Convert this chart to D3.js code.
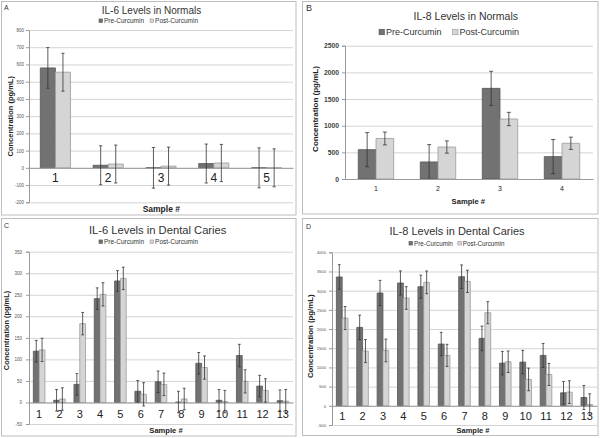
<!DOCTYPE html>
<html><head><meta charset="utf-8">
<script src="https://cdn.jsdelivr.net/npm/d3@7"></script>
<style>
body{margin:0;background:#fff}
svg{display:block}
text{font-family:"Liberation Sans",Arial,sans-serif}
</style>
</head><body>
<svg id="chart" width="600" height="438"></svg>
<script>
// ---------- data ----------
const seriesNames = ["Pre-Curcumin", "Post-Curcumin"];

const categoriesA = ["1", "2", "3", "4", "5"];
const preA = [580, 15, 0, 25, 0];
const postA = [555, 22, 10, 28, 0];
const preErrA = [118, 113, 118, 113, 116];
const postErrA = [110, 110, 110, 108, 110];
const ticksA = [-200, -100, 0, 100, 200, 300, 400, 500, 600, 700, 800];

const categoriesB = ["1", "2", "3", "4"];
const preB = [550, 320, 1700, 420];
const postB = [760, 600, 1125, 670];
const preErrB = [320, 325, 320, 320];
const postErrB = [120, 115, 125, 115];
const ticksB = [0, 500, 1000, 1500, 2000, 2500];

const categoriesC = ["1", "2", "3", "4", "5", "6", "7", "8", "9", "10", "11", "12", "13"];
const preC = [119, 5, 42, 241, 282, 26, 48, 1, 91, 5, 109, 38, 4];
const postC = [122, 8, 183, 251, 288, 19, 42, 8, 81, 2, 49, 28, 3];
const preErrC = [25, 25, 25, 25, 24, 25, 25, 25, 25, 25, 26, 25, 25];
const postErrC = [27, 26, 26, 27, 26, 27, 26, 25, 27, 26, 27, 27, 27];
const ticksC = [-50, 0, 50, 100, 150, 200, 250, 300, 350];

const categoriesD = ["1", "2", "3", "4", "5", "6", "7", "8", "9", "10", "11", "12", "13"];
const preD = [3357, 2043, 2939, 3200, 3104, 1609, 3365, 1757, 1113, 1139, 1313, 339, 217];
const postD = [2287, 1426, 1443, 2809, 3217, 1313, 3243, 2426, 1148, 687, 817, 357, 35];
const preErrD = [320, 320, 330, 315, 300, 305, 305, 320, 305, 305, 313, 296, 313];
const postErrD = [300, 300, 295, 295, 296, 290, 290, 287, 280, 295, 287, 295, 278];
const ticksD = [-500, 0, 500, 1000, 1500, 2000, 2500, 3000, 3500, 4000];

// ---------- drawing ----------
const svg = d3.select("#chart");
const PRE_FILL = "#727272", PRE_STROKE = "#555555";
const POST_FILL = "#d5d5d5", POST_STROKE = "#9a9a9a";

function drawPanel(cfg) {
  const g = svg.append("g");
  const [bx0, by0, bx1, by1] = cfg.box;
  g.append("rect").attr("x", bx0).attr("y", by0).attr("width", bx1 - bx0).attr("height", by1 - by0)
    .attr("fill", "#fff").attr("stroke", "#bdbdbd").attr("stroke-width", 1);

  g.append("text").attr("x", cfg.letter[0]).attr("y", cfg.letter[1])
    .attr("font-size", cfg.letter[2]).attr("fill", "#333").text(cfg.letterText);

  g.append("text").attr("x", cfg.titlePos[0]).attr("y", cfg.titlePos[1] + cfg.titleSize * 0.35)
    .attr("text-anchor", "middle").attr("font-size", cfg.titleSize).attr("fill", "#333").text(cfg.title);

  const P = cfg.plot;
  const y = d3.scaleLinear().domain(d3.extent(cfg.ticks)).range([P.bottom, P.top]);
  const x = d3.scaleBand().domain(cfg.categories).range([P.left, P.right])
    .paddingInner(1.5 / 3.5).paddingOuter(0.75 / 3.5);
  const xs = d3.scaleBand().domain(seriesNames).range([0, x.bandwidth()]);

  // gridlines
  g.append("g").attr("transform", `translate(${P.left},0)`)
    .call(d3.axisLeft(y).tickValues(cfg.ticks).tickSize(-(P.right - P.left)).tickFormat(""))
    .call(s => { s.select(".domain").remove(); s.selectAll("line").attr("stroke", "#d4d4d4"); });

  const series = [
    { name: seriesNames[0], values: cfg.pre, errs: cfg.preErr, fill: PRE_FILL, stroke: PRE_STROKE },
    { name: seriesNames[1], values: cfg.post, errs: cfg.postErr, fill: POST_FILL, stroke: POST_STROKE }
  ];
  const [dmin, dmax] = y.domain();

  series.forEach(sr => {
    const pts = sr.values.map((v, i) => ({ v, e: sr.errs[i], c: cfg.categories[i] }));
    g.append("g").selectAll("path").data(pts).join("path")
      .attr("d", d => {
        const x0 = x(d.c) + xs(sr.name), w = xs.bandwidth();
        const yt = y(Math.max(d.v, 0)), yb = y(Math.min(d.v, 0));
        return `M${x0},${yb}V${yt}H${x0 + w}V${yb}Z`;
      })
      .attr("fill", sr.fill).attr("stroke", sr.stroke).attr("stroke-width", 0.8);
  });

  // category axis at zero
  g.append("g").attr("transform", `translate(0,${y(0)})`)
    .call(d3.axisBottom(x).tickSize(0).tickPadding(cfg.catPad))
    .call(s => {
      s.select(".domain").attr("stroke", "#9a9a9a");
      s.selectAll("text").attr("font-size", cfg.catSize).attr("fill", "#222")
        .attr("font-family", '"Liberation Sans",Arial,sans-serif');
    });

  // value axis
  g.append("g").attr("transform", `translate(${P.left},0)`)
    .call(d3.axisLeft(y).tickValues(cfg.ticks).tickSize(3).tickPadding(cfg.tickPad).tickFormat(d => String(d)))
    .call(s => {
      s.select(".domain").attr("stroke", "#9a9a9a");
      s.selectAll("line").attr("stroke", "#9a9a9a");
      s.selectAll("text").attr("font-size", cfg.tickSize).attr("fill", cfg.tickColor)
        .attr("font-weight", cfg.tickBold ? "bold" : "normal")
        .attr("font-family", '"Liberation Sans",Arial,sans-serif');
    });

  // error bars
  series.forEach(sr => {
    const pts = sr.values.map((v, i) => ({ v, e: sr.errs[i], c: cfg.categories[i] }));
    const eg = g.append("g").attr("stroke", "#333").attr("stroke-width", 0.8);
    pts.forEach(d => {
      const cx = x(d.c) + xs(sr.name) + xs.bandwidth() / 2;
      const hi = Math.min(dmax, d.v + d.e), lo = Math.max(dmin, d.v - d.e);
      eg.append("line").attr("x1", cx).attr("x2", cx).attr("y1", y(hi)).attr("y2", y(lo));
      eg.append("line").attr("x1", cx - cfg.cap).attr("x2", cx + cfg.cap).attr("y1", y(hi)).attr("y2", y(hi));
      if (d.v - d.e >= dmin)
        eg.append("line").attr("x1", cx - cfg.cap).attr("x2", cx + cfg.cap).attr("y1", y(lo)).attr("y2", y(lo));
    });
  });

  // legend
  const lg = g.append("g");
  let lx = cfg.legend.x;
  const ly = cfg.legend.y, fs = cfg.legend.size, ms = cfg.legend.marker;
  series.forEach(sr => {
    lg.append("rect").attr("x", lx).attr("y", ly - ms / 2).attr("width", ms).attr("height", ms)
      .attr("fill", sr.fill).attr("stroke", sr.stroke).attr("stroke-width", 0.6);
    const t = lg.append("text").attr("x", lx + ms + 1.5).attr("y", ly + fs * 0.35)
      .attr("font-size", fs).attr("fill", "#333").text(sr.name);
    lx += ms + 1.5 + t.node().getComputedTextLength() + cfg.legend.gap;
  });

  // axis titles
  g.append("text").attr("transform", `translate(${cfg.yTitle[0] + cfg.yTitle[2] * 0.35},${cfg.yTitle[1]}) rotate(-90)`)
    .attr("text-anchor", "middle").attr("font-size", cfg.yTitle[2]).attr("font-weight", "bold")
    .attr("fill", "#222").text("Concentration (pg/mL)");
  g.append("text").attr("x", cfg.xTitle[0]).attr("y", cfg.xTitle[1] + cfg.xTitle[2] * 0.35)
    .attr("text-anchor", "middle").attr("font-size", cfg.xTitle[2]).attr("font-weight", "bold")
    .attr("fill", "#222").text("Sample #");
}

drawPanel({
  box: [1.5, 1.5, 296, 215], letterText: "A", letter: [4, 10, 7],
  title: "IL-6 Levels in Normals", titlePos: [151.5, 10], titleSize: 10,
  plot: { left: 29, right: 293, top: 30, bottom: 202.3 },
  categories: categoriesA, pre: preA, post: postA, preErr: preErrA, postErr: postErrA, ticks: ticksA,
  catSize: 12, catPad: 5.5, tickSize: 4.5, tickPad: 2, tickColor: "#555", tickBold: false, cap: 1.6,
  legend: { x: 99, y: 20.7, size: 6.5, marker: 3.5, gap: 6 },
  yTitle: [10, 116.3, 7.5], xTitle: [161.3, 209, 8.5]
});

drawPanel({
  box: [302.5, 1.5, 598, 214], letterText: "B", letter: [306, 11, 9],
  title: "IL-8 Levels in Normals", titlePos: [465.8, 16.7], titleSize: 10.5,
  plot: { left: 345, right: 593, top: 45.7, bottom: 179 },
  categories: categoriesB, pre: preB, post: postB, preErr: preErrB, postErr: postErrB, ticks: ticksB,
  catSize: 7, catPad: 7.5, tickSize: 6.8, tickPad: 3, tickColor: "#444", tickBold: true, cap: 2,
  legend: { x: 379, y: 32, size: 9, marker: 5.5, gap: 11 },
  yTitle: [315, 109, 8], xTitle: [468.3, 201.7, 7.6]
});

drawPanel({
  box: [1.5, 218.5, 296, 436], letterText: "C", letter: [4, 228, 7],
  title: "IL-6 Levels in Dental Caries", titlePos: [157.7, 230], titleSize: 11.2,
  plot: { left: 29, right: 293, top: 251.7, bottom: 424 },
  categories: categoriesC, pre: preC, post: postC, preErr: preErrC, postErr: postErrC, ticks: ticksC,
  catSize: 11, catPad: 8, tickSize: 4.5, tickPad: 4, tickColor: "#555", tickBold: false, cap: 1.4,
  legend: { x: 99, y: 241.7, size: 6.5, marker: 3.5, gap: 6 },
  yTitle: [6, 330.5, 7.4], xTitle: [166, 430, 7.6]
});

drawPanel({
  box: [302.5, 218.5, 598, 435.5], letterText: "D", letter: [306, 229, 7],
  title: "IL-8 Levels in Dental Caries", titlePos: [457, 230.7], titleSize: 11,
  plot: { left: 332, right: 597, top: 252.3, bottom: 425 },
  categories: categoriesD, pre: preD, post: postD, preErr: preErrD, postErr: postErrD, ticks: ticksD,
  catSize: 11, catPad: 6.4, tickSize: 4.2, tickPad: 3, tickColor: "#555", tickBold: false, cap: 1.4,
  legend: { x: 409, y: 243.3, size: 6.3, marker: 3.5, gap: 5 },
  yTitle: [310, 336.3, 7.8], xTitle: [473, 430, 7.5]
});
</script>
</body></html>
